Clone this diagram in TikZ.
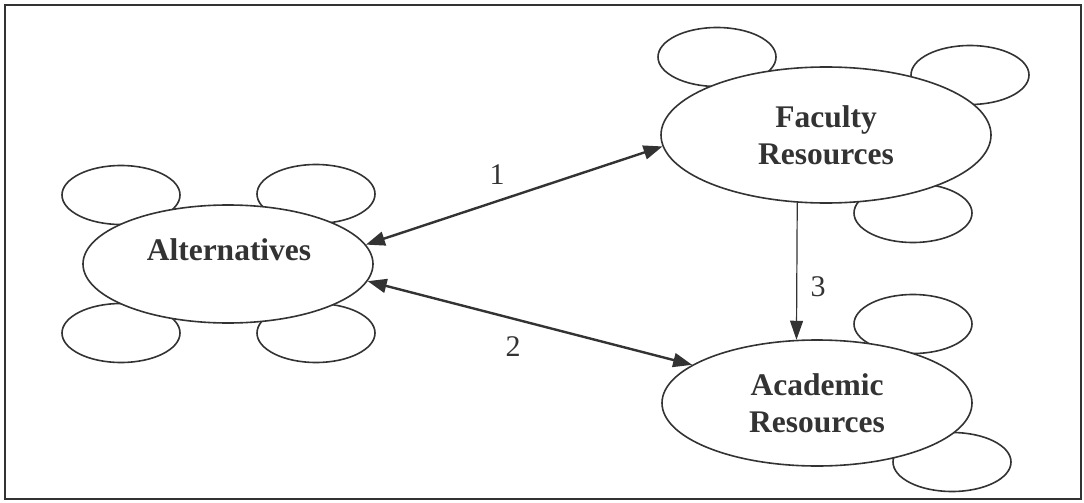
\documentclass[tikz,border=0pt]{standalone}
\usepackage{fontspec}
\setmainfont{Liberation Serif}
\usetikzlibrary{shapes.geometric,arrows.meta}
\definecolor{ink}{HTML}{333333}
\begin{document}
\begin{tikzpicture}[x=1pt,y=-1pt,
  bubble/.style={ellipse,draw=ink,line width=1.6pt,inner sep=0pt,
    minimum width=118pt,minimum height=59pt},
  mainbubble/.style={ellipse,draw=ink,fill=white,line width=1.6pt,inner sep=0pt,
    align=center,text=ink,font=\bfseries\fontsize{31.5}{37}\selectfont},
  link/.style={draw=ink,line width=2.4pt,{Triangle[length=19pt,width=14pt]}-{Triangle[length=19pt,width=14pt]}},
  flow/.style={draw=ink,line width=1.2pt,-{Triangle[length=19pt,width=13pt]}},
  num/.style={text=ink,font=\fontsize{30}{36}\selectfont,inner sep=0pt}]
  \useasboundingbox (0,0) rectangle (1084,503);
  \draw[ink,line width=1.8pt] (5,5) rectangle (1081,499);

  % satellite ellipses, drawn first so the main ones cover them
  \node[bubble] (a1) at (121,195) {};
  \node[bubble] (a2) at (316,194) {};
  \node[bubble] (a3) at (121,333) {};
  \node[bubble] (a4) at (316,333) {};
  \node[bubble] (f1) at (717,57) {};
  \node[bubble] (f2) at (970,75) {};
  \node[bubble] (f3) at (913,213) {};
  \node[bubble] (r1) at (913,324) {};
  \node[bubble] (r2) at (952,462) {};

  % main ellipses
  \node[mainbubble,minimum width=290pt,minimum height=118pt] (alt) at (228,264) {};
  \node[text=ink,font=\bfseries\fontsize{31.5}{37}\selectfont,inner sep=0pt] (altlabel) at (229,250) {Alternatives};
  \node[mainbubble,minimum width=330pt,minimum height=136pt] (fac) at (826,135) {Faculty\\Resources};
  \node[mainbubble,minimum width=310pt,minimum height=126pt] (aca) at (817,403) {Academic\\Resources};

  % relations
  \draw[link] (alt.8) -- (fac.184);
  \draw[link] (alt.-7) -- (aca.163);
  \draw[flow] (fac.247) -- (aca.108);

  \node[num] (n1) at (497,175) {1};
  \node[num] (n2) at (513,347) {2};
  \node[num] (n3) at (818,287) {3};
\end{tikzpicture}
\end{document}
